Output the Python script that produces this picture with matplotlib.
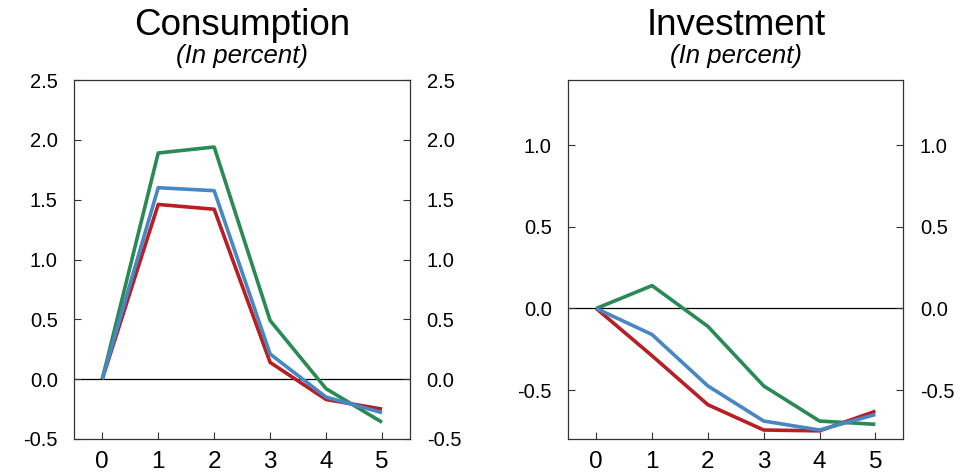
import matplotlib
matplotlib.use("Agg")
import matplotlib.pyplot as plt

plt.rcParams['font.family'] = ['Liberation Sans', 'DejaVu Sans']

horizon = [0, 1, 2, 3, 4, 5]

cons_green = [0.0, 1.89, 1.94, 0.49, -0.08, -0.36]
cons_blue = [0.0, 1.60, 1.575, 0.21, -0.15, -0.28]
cons_red = [0.0, 1.46, 1.42, 0.14, -0.17, -0.25]

inv_green = [0.0, 0.14, -0.11, -0.475, -0.69, -0.71]
inv_blue = [0.0, -0.16, -0.475, -0.69, -0.745, -0.65]
inv_red = [0.0, -0.29, -0.59, -0.745, -0.75, -0.63]

titles = ["Consumption", "Investment"]
subtitle = "(In percent)"
cons_yticks = [-0.5, 0.0, 0.5, 1.0, 1.5, 2.0, 2.5]
inv_yticks = [-0.5, 0.0, 0.5, 1.0]

GREEN = '#2a8a55'
BLUE = '#4787c4'
RED = '#b81f25'

fig = plt.figure(figsize=(9.75, 4.75), dpi=100)

W, H = 975, 475
def ax_rect(x0, x1, y0, y1):
    return [x0 / W, 1 - y1 / H, (x1 - x0) / W, (y1 - y0) / H]

ax1 = fig.add_axes(ax_rect(74.3, 410, 80, 439))
ax2 = fig.add_axes(ax_rect(568.3, 903.3, 80, 439))

panels = [
    (ax1, (cons_green, cons_blue, cons_red), cons_yticks, (-0.5, 2.5)),
    (ax2, (inv_green, inv_blue, inv_red), inv_yticks, (-0.8, 1.4)),
]

for i, (ax, (g, b, r), yt, yl) in enumerate(panels):
    ax.axhline(0, color='black', lw=0.9, zorder=1)
    ax.plot(horizon, g, color=GREEN, lw=2.6, zorder=3, solid_capstyle='butt')
    ax.plot(horizon, b, color=BLUE, lw=2.6, zorder=4, solid_capstyle='butt')
    ax.plot(horizon, r, color=RED, lw=2.6, zorder=2, solid_capstyle='butt')
    ax.set_xlim(-0.5, 5.5)
    ax.set_ylim(*yl)
    ax.set_xticks(horizon)
    ax.set_yticks(yt)
    ax.set_yticklabels([f"{v:.1f}" for v in yt])
    ax.tick_params(axis='y', which='both', direction='in', length=5, width=0.8,
                   left=True, right=True, labelleft=True, labelright=True,
                   labelsize=14.5, pad=12, color='#333333')
    ax.tick_params(axis='x', direction='in', length=5, width=0.8,
                   labelsize=17.5, pad=9, color='#333333')
    for s in ax.spines.values():
        s.set_color('#333333')
        s.set_linewidth(0.9)
    cx = (ax.get_position().x0 + ax.get_position().x1) / 2
    fig.text(cx, 1 - 35 / H, titles[i], ha='center', va='baseline', fontsize=26.5)
    fig.text(cx, 1 - 63 / H, subtitle, ha='center', va='baseline', fontsize=18.5,
             style='italic')

fig.savefig('out.png', dpi=100)
